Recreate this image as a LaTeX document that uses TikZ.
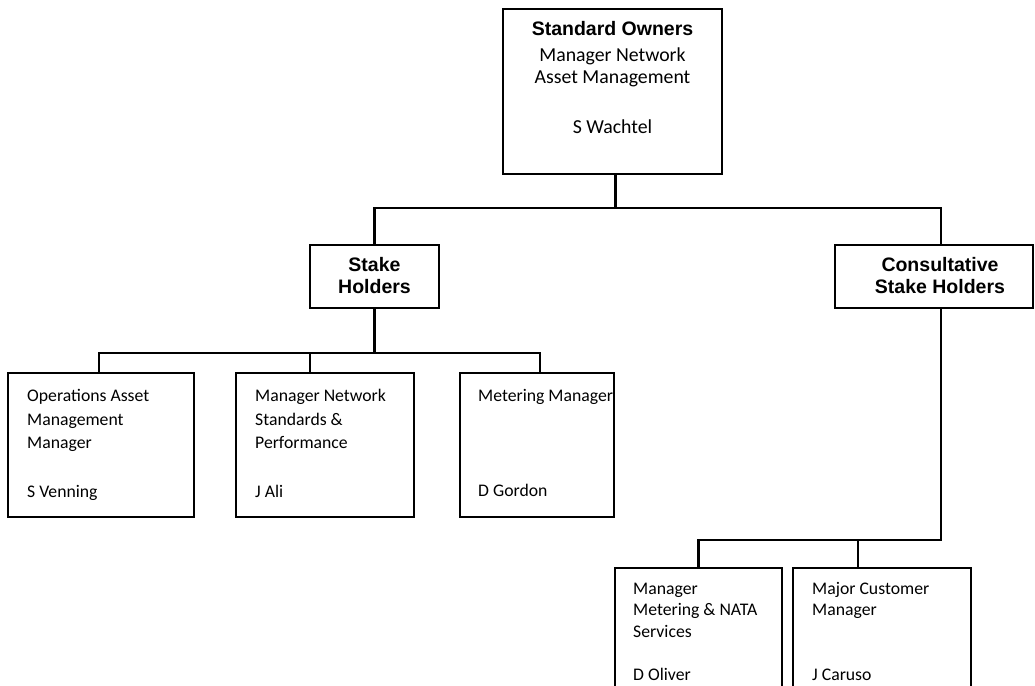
\documentclass[tikz,border=0pt]{standalone}
\usepackage{fontspec}
\setmainfont{Carlito}
\newfontfamily\arialfont{Liberation Sans}
\begin{document}
\begin{tikzpicture}[x=1pt,y=-1pt,
  box/.style={draw=black,line width=2.3pt,inner sep=0pt,fill=white},
  conn/.style={draw=black,line width=2.3pt},
  ttl/.style={font=\arialfont\bfseries\fontsize{19.5}{21.5}\selectfont,align=center,inner sep=0pt},
  body/.style={font=\fontsize{17.7}{23.5}\selectfont,align=left,inner sep=0pt,anchor=base west},
  bodyb/.style={font=\fontsize{17.7}{21.5}\selectfont,align=left,inner sep=0pt,anchor=base west}]
\useasboundingbox (0,0) rectangle (1035,685);
\clip (0,0) rectangle (1035,685);
% boxes
\node[box,minimum width=219pt,minimum height=165pt] (top) at (612.5,91.5) {};
\node[box,minimum width=129pt,minimum height=63pt] (sh) at (374.5,276.5) {};
\node[box,minimum width=198pt,minimum height=63pt] (cs) at (934,276.5) {};
\node[box,minimum width=186pt,minimum height=144pt] (b1) at (101,445) {};
\node[box,minimum width=178pt,minimum height=144pt] (b2) at (325,445) {};
\node[box,minimum width=154pt,minimum height=144pt] (b3) at (537,445) {};
\node[box,minimum width=167pt,minimum height=152pt] (c1) at (698.5,644) {};
\node[box,minimum width=178pt,minimum height=152pt] (c2) at (882,644) {};
% junction coordinates
\coordinate (bus1) at (615.5,208);
\coordinate (csT) at (941,245);
\coordinate (csS) at (941,308);
\coordinate (bus2) at (374.5,353);
\coordinate (bus3) at (941,540);
% connectors
\draw[conn] ([xshift=3pt]top.south) -- (bus1);
\draw[conn] (sh.north) |- (bus1) -| (csT);
\draw[conn] (sh.south) -- (bus2);
\draw[conn] ([xshift=-2pt]b1.north) |- (bus2) -| ([xshift=3pt]b3.north);
\draw[conn] ([xshift=-15pt]b2.north) -- ([xshift=-15pt]b2.north |- bus2);
\draw[conn] (csS) -- (bus3) -| (c1.north);
\draw[conn] ([xshift=-24pt]c2.north) -- ([xshift=-24pt]c2.north |- bus3);
% texts (anchor = baseline of last line)
\node[ttl,anchor=base] (toptitle) at (612.5,36) {Standard Owners};
\node[font=\fontsize{19.8}{22.5}\selectfont,align=center,inner sep=0pt,anchor=base] (toptxt) at (612.5,133) {Manager Network\\Asset Management\\[27pt]S Wachtel};
\node[ttl,anchor=base] (shtxt) at (374.5,293) {Stake\\Holders};
\node[ttl,anchor=base] (cstxt) at (940,293) {Consultative\\Stake Holders};
\node[body] (b1txt) at (27,497) {Operations Asset\\Management\\Manager\\[25pt]S Venning};
\node[body] (b2txt) at (255,497) {Manager Network\\Standards \&\\Performance\\[25pt]J Ali};
\node[body] (b3txt) at (478,496) {Metering Manager\\[71.5pt]D Gordon};
\node[bodyb] (c1txt) at (633,680) {Manager\\Metering \& NATA\\Services\\[21.5pt]D Oliver};
\node[bodyb] (c2txt) at (812,680) {Major Customer\\Manager\\[43pt]J Caruso};
\end{tikzpicture}
\end{document}
